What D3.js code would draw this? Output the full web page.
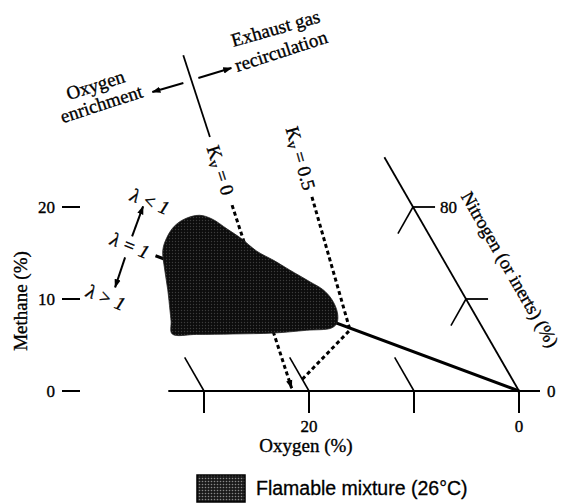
<!DOCTYPE html>
<html><head><meta charset="utf-8">
<script src="https://cdn.jsdelivr.net/npm/d3@7"></script>
<style>
body{margin:0;background:#fff}
svg{display:block}
.serif{font-family:"Liberation Serif","Times New Roman",serif;fill:#000;stroke:#000;stroke-width:0.35px}
</style>
</head><body>
<svg id="c" width="562" height="503"></svg>
<script>
// ---------- data (O2 %, CH4 %) ----------
const oxygenTicks = [30, 20, 10, 0];
const oxygenTickLabels = ["", "20", "", "0"];
const methaneTicks = [0, 10, 20];
const methaneTickLabels = ["0", "10", "20"];
const nitrogenTicksCH4 = [20, 10];          // nitrogen = 80 %, 90 %
const nitrogenTickLabels = ["80", ""];
const flammable = [
  [29.9,6.2],[29.3,7.6],[28.8,8.8],[27.9,11.0],[27.1,13.15],[26.2,15.3],[25.1,16.7],[23.8,17.9],
  [22.4,18.7],[20.8,19.1],[19.8,18.7],[18.9,17.6],[18.1,16.6],[17.3,15.2],[16.2,14.2],
  [15.2,13.15],[13.9,11.85],[13.1,11.0],[12.8,9.9],[13.0,8.5],[13.6,7.4],[14.4,6.85],
  [16.9,6.6],[20.2,6.3],[24.1,6.2],[27.6,6.15]
];
const stoichLine = [[27.2,14.7],[0,0]];          // lambda = 1
const kv0Line = [[13.55,36.5],[21.5,0.3]];       // Kv = 0
const kv0SolidRange = [36.5, 27.6];
const kv0DashRange = [20.2, 0.3];
const kv05Upper = [[9.07,21.1],[12.75,6.63]];    // Kv = 0.5
const kv05Lower = [[12.75,6.63],[20.1,1.2]];
const legendLabel = "Flamable mixture (26°C)";

// ---------- scales ----------
const xO = d3.scaleLinear().domain([0,30]).range([519,204]);
const yC = d3.scaleLinear().domain([0,20]).range([391,207]);
const skew = d3.scaleLinear().domain([0,20]).range([0,-106]);
const proj = ([o,c]) => [xO(o)+skew(c), yC(c)];
const lineAt = (ln, c) => {
  const [[o1,c1],[o2,c2]] = ln;
  return [o1 + (c-c1)*(o2-o1)/(c2-c1), c];
};

const svg = d3.select("#c");
const defs = svg.append("defs");
const pat = defs.append("pattern").attr("id","stip").attr("width",3).attr("height",3)
  .attr("patternUnits","userSpaceOnUse");
pat.append("rect").attr("width",3).attr("height",3).attr("fill","#0c0c0c");
pat.append("circle").attr("cx",1.5).attr("cy",1.5).attr("r",0.7).attr("fill","#3c3c3c");
const pat2 = defs.append("pattern").attr("id","stip2").attr("width",3).attr("height",3)
  .attr("patternUnits","userSpaceOnUse");
pat2.append("rect").attr("width",3).attr("height",3).attr("fill","#1a1a1a");
pat2.append("circle").attr("cx",1.5).attr("cy",1.5).attr("r",0.8).attr("fill","#888");
defs.append("marker").attr("id","arr").attr("viewBox","0 0 10 10").attr("refX",9).attr("refY",5)
  .attr("markerWidth",9).attr("markerHeight",9).attr("markerUnits","userSpaceOnUse")
  .attr("orient","auto")
  .append("path").attr("d","M0,1.5L10,5L0,8.5z").attr("fill","#000");

const line = d3.line().x(d=>proj(d)[0]).y(d=>proj(d)[1]);

// ---------- axes ----------
svg.append("path").attr("d", line([[33.4,0],[-2,0]])).attr("stroke","#000").attr("stroke-width",2.2).attr("fill","none");
oxygenTicks.forEach((o,i)=>{
  const [x,y] = proj([o,0]);
  svg.append("line").attr("x1",x).attr("x2",x).attr("y1",y).attr("y2",y+22).attr("stroke","#000").attr("stroke-width",2);
  if (o>0) svg.append("path").attr("d", line([[o,0],[o,3.65]])).attr("stroke","#000").attr("stroke-width",1.6).attr("fill","none");
  if (oxygenTickLabels[i]) svg.append("text").attr("class","serif").attr("x",x).attr("y",y+41)
    .attr("text-anchor","middle").attr("font-size",17).text(oxygenTickLabels[i]);
});
svg.append("text").attr("class","serif").attr("x",xO(20)-3).attr("y",452).attr("text-anchor","middle")
  .attr("font-size",19).text("Oxygen (%)");
svg.append("text").attr("class","serif").attr("x",proj([-2,0])[0]+7).attr("y",yC(0)).attr("dy","0.35em")
  .attr("font-size",17).text("0");

svg.append("path").attr("d", line([[0,0],[0,25.4]])).attr("stroke","#000").attr("stroke-width",1.8).attr("fill","none");
nitrogenTicksCH4.forEach((c,i)=>{
  svg.append("path").attr("d", line([[0,c],[-2.1,c]])).attr("stroke","#000").attr("stroke-width",1.8).attr("fill","none");
  svg.append("path").attr("d", line([[0,c],[2.9,c-2.9]])).attr("stroke","#000").attr("stroke-width",1.6).attr("fill","none");
  if (nitrogenTickLabels[i]) {
    const [x,y] = proj([0,c]);
    svg.append("text").attr("class","serif").attr("x",x+27).attr("y",y).attr("dy","0.35em")
      .attr("font-size",17).text(nitrogenTickLabels[i]);
  }
});
{
  const [x,y] = proj([0,12.8]);
  svg.append("text").attr("class","serif").attr("transform",`translate(${x+59},${y-4}) rotate(60)`)
    .attr("text-anchor","middle").attr("dy","0.35em").attr("font-size",18.5).text("Nitrogen (or inerts) (%)");
}

methaneTicks.forEach((c,i)=>{
  const y = yC(c);
  svg.append("line").attr("x1",62).attr("x2",80).attr("y1",y).attr("y2",y).attr("stroke","#000").attr("stroke-width",2);
  svg.append("text").attr("class","serif").attr("x",55).attr("y",y).attr("dy","0.35em")
    .attr("text-anchor","end").attr("font-size",17).text(methaneTickLabels[i]);
});
svg.append("text").attr("class","serif").attr("transform",`translate(27,${yC(10)+2}) rotate(-90)`)
  .attr("text-anchor","middle").attr("font-size",19).text("Methane (%)");

// ---------- lines ----------
svg.append("path").attr("d", line(stoichLine)).attr("stroke","#000").attr("stroke-width",3).attr("fill","none");
svg.append("path").attr("d", line(kv0SolidRange.map(c=>lineAt(kv0Line,c)))).attr("stroke","#000").attr("stroke-width",1.8).attr("fill","none");
svg.append("path").attr("d", line(kv0DashRange.map(c=>lineAt(kv0Line,c)))).attr("stroke","#000").attr("stroke-width",3)
  .attr("stroke-dasharray","4,3").attr("fill","none").attr("marker-end","url(#arr)");
svg.append("path").attr("d", line([kv05Upper[0],kv05Upper[1],kv05Lower[1]])).attr("stroke","#000").attr("stroke-width",3)
  .attr("stroke-dasharray","4,3").attr("fill","none");

// ---------- flammable region ----------
svg.append("path").attr("d", d3.line().curve(d3.curveCatmullRomClosed.alpha(0.5))
  .x(d=>proj(d)[0]).y(d=>proj(d)[1])(flammable)).attr("fill","url(#stip)").attr("stroke","#222").attr("stroke-width",0.8);

// ---------- labels ----------
function kvLabel(pt, angle, tail) {
  const [x,y] = proj(pt);
  const t = svg.append("text").attr("class","serif").attr("transform",`translate(${x},${y}) rotate(${angle})`)
    .attr("text-anchor","middle").attr("dy","0.35em").attr("font-size",19);
  t.append("tspan").text("K");
  t.append("tspan").attr("font-size",15).attr("dy",3).text("v");
  t.append("tspan").attr("dy",-3).text(" = " + tail);
}
kvLabel(lineAt(kv0Line,24), 72, "0");
kvLabel(lineAt(kv05Upper,25.3), 74, "0.5");

{
  const [ax,ay] = proj(lineAt(kv0Line,33.8));
  svg.append("line").attr("x1",ax+7).attr("y1",ay-2).attr("x2",ax+40).attr("y2",ay-12)
    .attr("stroke","#000").attr("stroke-width",2).attr("marker-end","url(#arr)");
  svg.append("line").attr("x1",ax-8).attr("y1",ay+3).attr("x2",ax-39).attr("y2",ay+12)
    .attr("stroke","#000").attr("stroke-width",2).attr("marker-end","url(#arr)");
  const g1 = svg.append("g").attr("font-size",19).attr("text-anchor","middle");
  g1.append("text").attr("class","serif").attr("transform",`translate(${ax-94},${ay+11}) rotate(-18)`).text("Oxygen");
  g1.append("text").attr("class","serif").attr("transform",`translate(${ax-88},${ay+30}) rotate(-18)`).text("enrichment");
  const g2 = svg.append("g").attr("font-size",19);
  g2.append("text").attr("class","serif").attr("transform",`translate(${ax+42},${ay-33}) rotate(-16)`).text("Exhaust gas");
  g2.append("text").attr("class","serif").attr("transform",`translate(${ax+46},${ay-8}) rotate(-18)`).text("recirculation");
}

{
  const k = stoichLine[0][1]/stoichLine[0][0];
  const o = 29.1;
  const [lx,ly] = proj([o,k*o]);
  const lab = (dx,dy,txt)=> svg.append("text").attr("class","serif").attr("font-style","italic")
    .attr("transform",`translate(${lx+dx},${ly+dy}) rotate(22)`).attr("text-anchor","middle")
    .attr("dy","0.35em").attr("font-size",19).text(txt);
  lab(0,-1,"λ = 1");
  lab(20,-45,"λ < 1");
  lab(-24,51,"λ > 1");
  svg.append("line").attr("x1",lx+2).attr("y1",ly-10).attr("x2",lx+13).attr("y2",ly-40)
    .attr("stroke","#000").attr("stroke-width",2).attr("marker-end","url(#arr)");
  svg.append("line").attr("x1",lx-5).attr("y1",ly+11).attr("x2",lx-15).attr("y2",ly+41)
    .attr("stroke","#000").attr("stroke-width",2).attr("marker-end","url(#arr)");
}

svg.append("rect").attr("x",197).attr("y",475).attr("width",48).attr("height",27)
  .attr("fill","url(#stip2)").attr("stroke","#000").attr("stroke-width",1.5);
svg.append("text").attr("x",256).attr("y",495).attr("font-family","'Liberation Sans',Arial,sans-serif")
  .attr("font-size",19.5).attr("fill","#000").attr("stroke","#000").attr("stroke-width",0.3).text(legendLabel);
</script>
</body></html>
